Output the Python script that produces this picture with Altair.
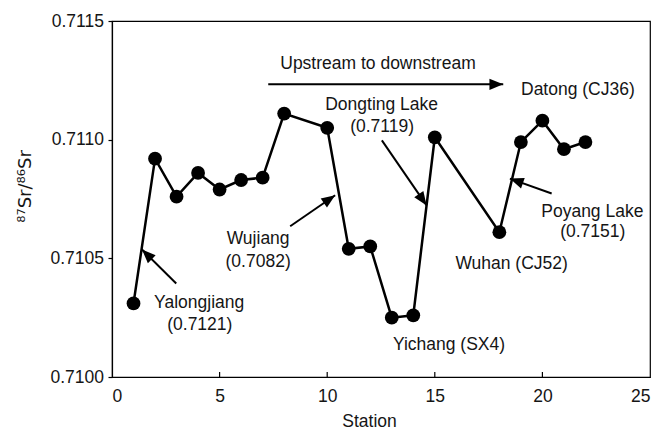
import math
import altair as alt
import pandas as pd

# ---- data ----
station = [1, 2, 3, 4, 5, 6, 7, 8, 10, 11, 12, 13, 14, 15, 18, 19, 20, 21, 22]
sr_ratio = [0.71031, 0.71092, 0.71076, 0.71086, 0.71079, 0.71083, 0.71084, 0.71111,
            0.71105, 0.71054, 0.71055, 0.71025, 0.71026, 0.71101,
            0.71061, 0.71099, 0.71108, 0.71096, 0.71099]

x_ticks = [0, 5, 10, 15, 20, 25]
y_ticks = [0.7100, 0.7105, 0.7110, 0.7115]
inner_x_ticks = [5, 10, 15, 20]

label_text = ["Upstream to downstream", "Yalongjiang", "(0.7121)", "Wujiang", "(0.7082)",
              "Dongting Lake", "(0.7119)", "Datong (CJ36)", "Poyang Lake", "(0.7151)",
              "Wuhan (CJ52)", "Yichang (SX4)"]
label_x = [12.36, 4.05, 4.08, 6.79, 6.79, 12.53, 12.55, 21.65, 22.32, 22.34, 18.57, 15.66]
label_y = [0.711318, 0.710311, 0.710218, 0.710580, 0.710485, 0.711145, 0.711053,
           0.711208, 0.710695, 0.710611, 0.710478, 0.710134]

arrow_x_start = [7.26, 2.985, 8.28, 12.54, 20.43]
arrow_y_start = [0.711233, 0.710394, 0.710635, 0.710997, 0.710773]
arrow_x_end = [18.18, 1.393, 10.37, 14.62, 18.49]
arrow_y_end = [0.711233, 0.710537, 0.710766, 0.710723, 0.710836]

# ---- layout ----
W, H = 538, 356
X_DOM = [0, 25]
Y_DOM = [0.7100, 0.7115]
FONT = "Liberation Sans"
FS = 17.5
INK = "#151515"

xs = alt.Scale(domain=X_DOM, nice=False, zero=False)
ys = alt.Scale(domain=Y_DOM, nice=False, zero=False)

pts = pd.DataFrame({"station": station, "sr": sr_ratio})
labels = pd.DataFrame({"t": label_text, "x": label_x, "y": label_y})


def angle_of(x0, y0, x1, y1):
    dx = (x1 - x0) / (X_DOM[1] - X_DOM[0]) * W
    dy = -(y1 - y0) / (Y_DOM[1] - Y_DOM[0]) * H
    return math.degrees(math.atan2(dx, -dy)) % 360


arrows = pd.DataFrame({
    "x": arrow_x_start, "y": arrow_y_start,
    "x2": arrow_x_end, "y2": arrow_y_end,
})
arrows["ang"] = [angle_of(a, b, c, d) for a, b, c, d in
                 zip(arrow_x_start, arrow_y_start, arrow_x_end, arrow_y_end)]

base_x = alt.X("station:Q", scale=xs,
               axis=alt.Axis(values=x_ticks, title="Station", ticks=False,
                             labelPadding=10, titleX=257, titleY=44,
                             titleBaseline="middle"))
base_y = alt.Y("sr:Q", scale=ys,
               axis=alt.Axis(values=y_ticks, format=".4f", title="⁸⁷Sr/⁸⁶Sr",
                             titleFont="DejaVu Sans", titleFontSize=18,
                             tickSize=4, labelPadding=4.5, titleX=-78, titleY=165))

line = alt.Chart(pts).mark_line(color="black", strokeWidth=2.5).encode(x=base_x, y=base_y)
dots = alt.Chart(pts).mark_circle(color="black", opacity=1, size=190).encode(
    x="station:Q", y="sr:Q")

tick_df = pd.DataFrame({"x": inner_x_ticks})
inner_ticks = alt.Chart(tick_df).mark_rule(color="black", strokeWidth=1.2).encode(
    x=alt.X("x:Q", scale=xs),
    y=alt.value(H),
    y2=alt.value(H - 5),
)

shafts = alt.Chart(arrows).mark_rule(color="black", strokeWidth=2).encode(
    x=alt.X("x:Q", scale=xs), y=alt.Y("y:Q", scale=ys),
    x2="x2:Q", y2="y2:Q")

heads = alt.Chart(arrows).mark_point(
    shape="M0,0L0.4,1L-0.4,1Z", filled=True, color="black", opacity=1,
    size=760, strokeWidth=0).encode(
    x=alt.X("x2:Q", scale=xs), y=alt.Y("y2:Q", scale=ys),
    angle=alt.Angle("ang:Q", scale=None))

texts = alt.Chart(labels).mark_text(
    font=FONT, fontSize=FS, color=INK, align="center", baseline="middle").encode(
    x=alt.X("x:Q", scale=xs), y=alt.Y("y:Q", scale=ys), text="t:N")

chart = alt.layer(line, dots, inner_ticks, shafts, heads, texts).properties(
    width=W, height=H,
    autosize=alt.AutoSizeParams(type="none"),
    padding={"left": 112, "top": 21, "right": 13, "bottom": 59},
    background="white",
).configure_view(stroke="black", strokeWidth=1.2).configure_axis(
    grid=False, domainColor="black", domainWidth=1.2, tickColor="black", tickWidth=1.2,
    labelFont=FONT, labelFontSize=FS, labelColor=INK,
    titleFont=FONT, titleFontSize=FS, titleColor=INK, titleFontWeight="normal",
)

chart.save("out.html", embed_options={"renderer": "svg", "actions": False})
